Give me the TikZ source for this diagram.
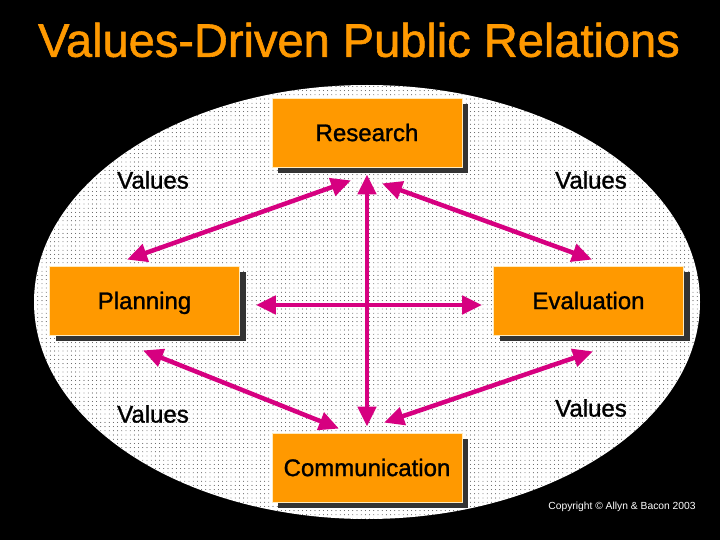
\documentclass[tikz,border=0pt]{standalone}
\usepackage{fontspec}
\setmainfont{Liberation Sans}
\newfontfamily\heavysans[FakeBold=1.2]{Liberation Sans}
\usetikzlibrary{arrows.meta,shadows,patterns.meta,calc}
\definecolor{orng}{RGB}{255,153,0}
\definecolor{mag}{RGB}{214,0,128}
\definecolor{shd}{RGB}{51,51,51}
\definecolor{edge}{RGB}{255,235,190}
\begin{document}
\begin{tikzpicture}[x=1pt,y=-1pt,
  box/.style={rectangle, fill=orng, draw=edge, line width=0.8pt,
    minimum width=190pt, minimum height=69pt, inner sep=0pt,
    text height=17.2pt, text depth=0pt,
    font=\heavysans\fontsize{24}{28}\selectfont,
    drop shadow={shadow xshift=6pt, shadow yshift=-6pt, fill=shd, opacity=1}},
  lbl/.style={font=\heavysans\fontsize{24}{28}\selectfont, inner sep=0pt},
  arr/.style={draw=mag, line width=4.5pt,
    {Triangle[length=20pt,width=18pt]}-{Triangle[length=20pt,width=18pt]}}]
  % background and bounding box
  \fill[black] (0,0) rectangle (720,540);
  \useasboundingbox (0,0) rectangle (720,540);
  % dotted oval
  \fill[white] (367,302) ellipse [x radius=333, y radius=217];
  \fill[pattern={Dots[distance=4.2pt, radius=0.42pt]}, pattern color=black]
    (367,302) ellipse [x radius=333, y radius=217];
  % title
  \node[text=orng, font=\heavysans\fontsize{47}{50}\selectfont, inner sep=0pt] (title) at (359,40) {Values-Driven Public Relations};
  % boxes
  \node[box] (R) at (367,132.5) {Research};
  \node[box] (P) at (144.5,300.5) {Planning};
  \node[box] (E) at (588.5,300.5) {Evaluation};
  \node[box] (C) at (367,467.5) {Communication};
  % arrows
  \draw[arr] ([yshift=-7pt]R.south) -- ([yshift=6pt]C.north);
  \draw[arr] ($(P.east)+(16,4.5)$) -- ($(E.west)+(-11,4.5)$);
  \draw[arr] ($(R.south)+(-16,13)$) -- ($(P.north)+(-17.5,-6)$);
  \draw[arr] ($(R.south)+(15,16)$) -- ($(E.north)+(3.5,-6)$);
  \draw[arr] ($(P.south)+(-1.5,15)$) -- ($(C.north)+(-28,-4)$);
  \draw[arr] ($(E.south)+(4.5,16)$) -- ($(C.north)+(17,-10)$);
  % values labels
  \node[lbl] (v1) at (153,180) {Values};
  \node[lbl] (v2) at (591,180) {Values};
  \node[lbl] (v3) at (153,414) {Values};
  \node[lbl] (v4) at (591,408) {Values};
  % copyright
  \node[text=white, font=\fontsize{10.3}{12}\selectfont, inner sep=0pt] (copy) at (622,507) {Copyright © Allyn \& Bacon 2003};
\end{tikzpicture}
\end{document}
